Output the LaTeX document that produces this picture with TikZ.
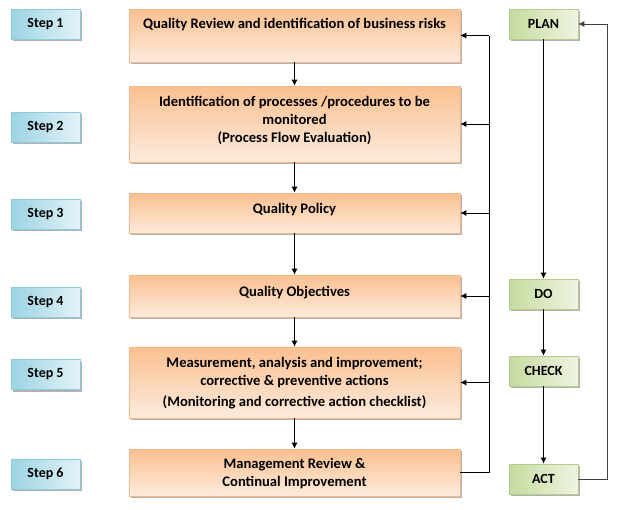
\documentclass[tikz,border=0pt]{standalone}
\usepackage{fontspec}
\setmainfont{Carlito}
\usetikzlibrary{arrows.meta,shadows}
\definecolor{orTop}{HTML}{FAC090}
\definecolor{orBot}{HTML}{FDEBDD}
\definecolor{orEdge}{HTML}{F6B888}
\definecolor{blDark}{HTML}{9CD3E2}
\definecolor{blLight}{HTML}{E2F3F8}
\definecolor{blEdge}{HTML}{8FCADB}
\definecolor{grDark}{HTML}{C6DA9E}
\definecolor{grLight}{HTML}{EEF4E2}
\definecolor{grEdge}{HTML}{B5CC8A}
\tikzset{
  x=1pt, y=-1pt,
  boxshadow/.style={drop shadow={shadow xshift=2pt, shadow yshift=-2pt, fill=black, opacity=0.3}},
  stepbox/.style={draw=blEdge, line width=0.6pt, left color=blDark, right color=blLight, boxshadow,
    minimum width=69pt, minimum height=30pt, inner sep=0pt, font=\fontsize{14}{18}\selectfont\bfseries},
  procbox/.style={draw=orEdge, line width=0.6pt, top color=orTop, bottom color=orBot, boxshadow,
    minimum width=331pt, inner sep=0pt},
  pdcabox/.style={draw=grEdge, line width=0.6pt, left color=grDark, right color=grLight, boxshadow,
    minimum width=69pt, minimum height=30pt, inner sep=0pt, font=\fontsize{14}{18}\selectfont\bfseries},
  txt/.style={align=center, inner sep=0pt, font=\fontsize{14.6}{18}\selectfont\bfseries},
  conn/.style={line width=0.9pt, -{Latex[length=6pt,width=6pt]}},
  plain/.style={line width=0.9pt},
}
\begin{document}
\begin{tikzpicture}
\useasboundingbox (0,0) rectangle (623,509);
% step boxes
\node[stepbox] (s1) at (45.5,24) {Step 1};
\node[stepbox] (s2) at (45.5,127) {Step 2};
\node[stepbox] (s3) at (45.5,214) {Step 3};
\node[stepbox] (s4) at (45.5,302) {Step 4};
\node[stepbox] (s5) at (45.5,374.5) {Step 5};
\node[stepbox] (s6) at (45.5,474) {Step 6};
% process boxes
\node[procbox, minimum height=53pt] (b1) at (294.5,35.5) {};
\node[procbox, minimum height=76pt] (b2) at (294.5,124) {};
\node[procbox, minimum height=40pt] (b3) at (294.5,213) {};
\node[procbox, minimum height=42pt] (b4) at (294.5,296) {};
\node[procbox, minimum height=71pt] (b5) at (294.5,382.5) {};
\node[procbox, minimum height=47pt] (b6) at (294.5,472.5) {};
% texts
\node[txt] (t1) at (294.5,25) {Quality Review and identification of business risks};
\node[txt] (t2) at (294.5,120.5) {Identification of processes /procedures to be\\monitored\\(Process Flow Evaluation)};
\node[txt] (t3) at (294.5,210) {Quality Policy};
\node[txt] (t4) at (294.5,292.5) {Quality Objectives};
\node[txt] (t5) at (294.5,383) {Measurement, analysis and improvement;\\corrective \& preventive actions\\[2.5pt](Monitoring and corrective action  checklist)};
\node[txt] (t6) at (294.5,473.5) {Management Review \&\\Continual Improvement};
% PDCA
\node[pdcabox] (plan) at (543.5,24) {PLAN};
\node[pdcabox] (do) at (543.5,294) {DO};
\node[pdcabox] (check) at (543.5,371) {CHECK};
\node[pdcabox] (act) at (543.5,479) {ACT};
% vertical flow arrows
\draw[conn] (b1.south) -- (b2.north);
\draw[conn] (b2.south) -- (b3.north);
\draw[conn] (b3.south) -- (b4.north);
\draw[conn] (b4.south) -- (b5.north);
\draw[conn] (b5.south) -- (b6.north);
% feedback spine
\coordinate (spB) at (489,472.5);
\coordinate (spT) at (489,35.5);
\draw[plain] (b6.east) -- (spB) -- (spT);
\draw[conn] (spT) -- (b1.east);
\draw[conn] (spT |- b2.east) -- (b2.east);
\draw[conn] (spT |- b3.east) -- (b3.east);
\draw[conn] (spT |- b4.east) -- (b4.east);
\draw[conn] (spT |- b5.east) -- (b5.east);
% PDCA arrows
\draw[conn] (plan.south) -- (do.north);
\draw[conn] (do.south) -- (check.north);
\draw[conn] (check.south) -- (act.north);
\coordinate (rb) at (607,479);
\coordinate (rt) at (607,24);
\draw[conn, draw=black!75] (act.east) -- (rb) -- (rt) -- (plan.east);
\end{tikzpicture}
\end{document}
